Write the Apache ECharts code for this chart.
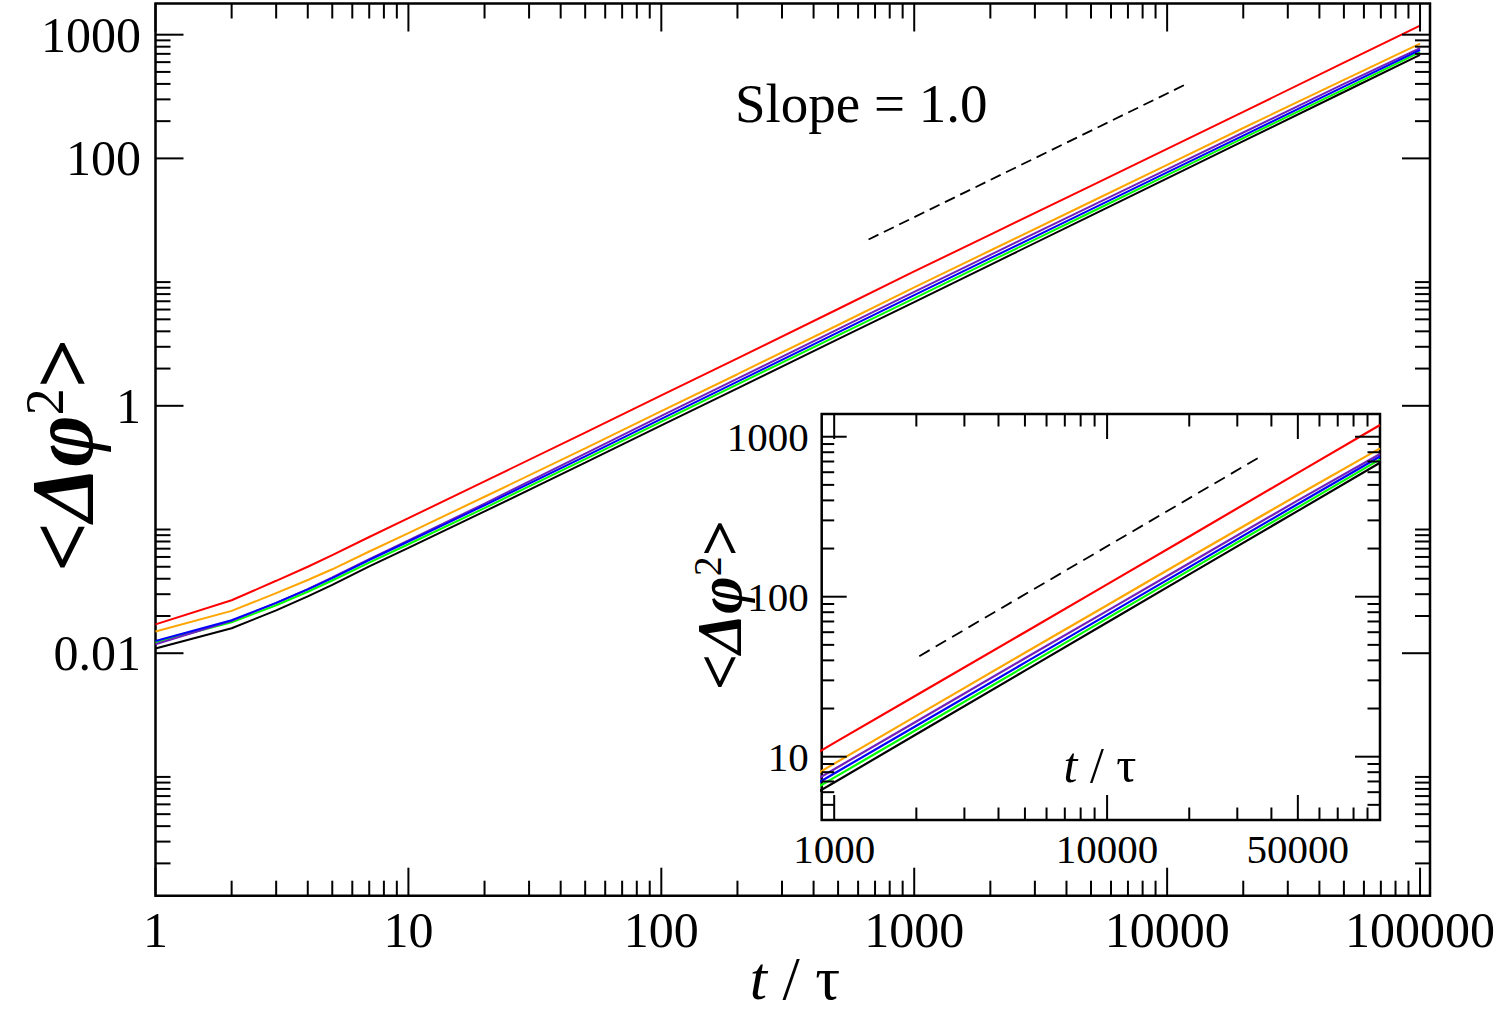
<!DOCTYPE html>
<html><head><meta charset="utf-8">
<script src="https://cdn.jsdelivr.net/npm/echarts@6/dist/echarts.min.js"></script>
<style>html,body{margin:0;padding:0;background:#fff}#c{width:1500px;height:1013px}</style>
</head><body><div id="c"></div>
<script>
// ---------------- data ----------------
const times = [1,2,3,4,5,7,10,20,50,100,200,500,1000,2000,5000,10000,20000,50000,100000];
const redVals    = [0.0171,0.0268,0.0385,0.0500,0.0620,0.0870,0.1235,0.245,0.607,1.215,2.42,6.06,12.2,24.2,60.0,119.5,238,594,1183];
const orangeVals = [0.0150,0.0220,0.0306,0.0391,0.0477,0.0664,0.0936,0.184,0.452,0.905,1.80,4.50,9.05,18.0,44.6,88.5,176,432,846];
const purpleVals = [0.01183,0.0183,0.0255,0.0330,0.0410,0.0577,0.0815,0.162,0.410,0.830,1.66,4.16,8.35,16.6,41.2,81.5,162,400,780];
const blueVals   = [0.01257,0.0185,0.0255,0.0328,0.0405,0.0567,0.0800,0.157,0.390,0.785,1.57,3.92,7.85,15.6,38.7,77.0,153,380,752];
const greenVals  = [0.01227,0.0178,0.0244,0.0314,0.0387,0.0540,0.0760,0.149,0.371,0.745,1.49,3.71,7.40,14.75,36.7,73.2,146,362,722];
const blackVals  = [0.0109,0.0159,0.0222,0.0288,0.0357,0.0503,0.0711,0.140,0.347,0.695,1.385,3.46,6.90,13.8,34.5,69.0,138,344,688];

const seriesList = [
  {name:'black',  color:'#000000', vals:blackVals},
  {name:'green',  color:'#00ff00', vals:greenVals},
  {name:'purple', color:'#7221bc', vals:purpleVals},
  {name:'blue',   color:'#0000ff', vals:blueVals},
  {name:'orange', color:'#ffa500', vals:orangeVals},
  {name:'red',    color:'#ff0000', vals:redVals}
];

// slope-1 guide lines
const slopeMainX  = [660, 11800];
const slopeMainY  = [22.1, 395];
const slopeInsetX = [2050, 36900];
const slopeInsetY = [42.5, 760];

// tick labels
const mainXLabelVals  = [1,10,100,1000,10000,100000];
const mainXLabelText  = ['1','10','100','1000','10000','100000'];
const mainYLabelVals  = [1000,100,1,0.01];
const mainYLabelText  = ['1000','100','1','0.01'];
const insetXLabelVals = [1000,10000,50000];
const insetXLabelText = ['1000','10000','50000'];
const insetYLabelVals = [1000,100,10];
const insetYLabelText = ['1000','100','10'];

// tick marks
const mults = [2,3,4,5,6,7,8,9];
const mainXMajor = [1,10,100,1000,10000,100000];
const mainXMinor = [1,10,100,1000,10000].flatMap(b => mults.map(m => m*b));
const mainYMajor = [0.01,1,100,1000];
const mainYMinor = [1e-4,1e-2,1,100].flatMap(b => mults.map(m => m*b)).concat([1e-3,0.1,10]);
const insetXMajor = [1000,10000,50000];
const insetXMinor = [2000,3000,4000,5000,6000,7000,8000,9000,20000,30000,40000,60000,70000,80000,90000];
const insetYMajor = [10,100,1000];
const insetYMinor = [5,6,7,8,9,20,30,40,50,60,70,80,90,200,300,400,500,600,700,800,900];

// ---------------- chart ----------------
const FONT = "'Liberation Serif','Times New Roman',serif";
const chart = echarts.init(document.getElementById('c'), null, {renderer:'svg', width:1500, height:1013});

function tickSeries(gi, xMaj, xMin, yMaj, yMin, refX, refY, majLen, minLen) {
  const data = [];
  xMaj.forEach(v => data.push([v, refY, majLen, 0]));
  xMin.forEach(v => data.push([v, refY, minLen, 0]));
  yMaj.forEach(v => data.push([refX, v, majLen, 1]));
  yMin.forEach(v => data.push([refX, v, minLen, 1]));
  return {
    type:'custom', xAxisIndex:gi, yAxisIndex:gi, silent:true, clip:false, z:8, animation:false,
    data,
    renderItem(params, api) {
      const cs = params.coordSys;
      const len = api.value(2);
      const style = {stroke:'#000', lineWidth:2};
      if (api.value(3) === 0) {
        const x = api.coord([api.value(0), refY])[0];
        const b = cs.y + cs.height, t = cs.y;
        return {type:'group', children:[
          {type:'line', shape:{x1:x, y1:b, x2:x, y2:b-len}, style},
          {type:'line', shape:{x1:x, y1:t, x2:x, y2:t+len}, style}
        ]};
      } else {
        const y = api.coord([refX, api.value(1)])[1];
        const l = cs.x, r = cs.x + cs.width;
        return {type:'group', children:[
          {type:'line', shape:{x1:l, y1:y, x2:l+len, y2:y}, style},
          {type:'line', shape:{x1:r, y1:y, x2:r-len, y2:y}, style}
        ]};
      }
    }
  };
}

function labelSeries(gi, axis, vals, texts, ref, offset, fontSize) {
  return {
    type:'custom', xAxisIndex:gi, yAxisIndex:gi, silent:true, clip:false, z:8, animation:false,
    data: vals.map(v => axis === 'x' ? [v, ref] : [ref, v]),
    renderItem(params, api) {
      const cs = params.coordSys;
      const txt = texts[params.dataIndex];
      if (axis === 'x') {
        const x = api.coord([api.value(0), ref])[0];
        return {type:'text', x:x, y:cs.y + cs.height + offset,
          style:{text:txt, fontSize, fontFamily:FONT, fill:'#000', align:'center', verticalAlign:'middle'}};
      } else {
        const y = api.coord([ref, api.value(1)])[1];
        return {type:'text', x:cs.x + offset, y:y,
          style:{text:txt, fontSize, fontFamily:FONT, fill:'#000', align:'right', verticalAlign:'middle'}};
      }
    }
  };
}

function dataSeries(gi, width, z) {
  return seriesList.map(s => ({
    type:'line', name:s.name, xAxisIndex:gi, yAxisIndex:gi,
    data: times.map((t, i) => [t, s.vals[i]]),
    showSymbol:false, symbol:'none', clip:true, animation:false, silent:true,
    lineStyle:{color:s.color, width:width}, z:z
  }));
}

function slopeSeries(gi, xs, ys, dash, z) {
  return {type:'line', xAxisIndex:gi, yAxisIndex:gi, data: xs.map((x,i)=>[x, ys[i]]),
    showSymbol:false, symbol:'none', clip:true, animation:false, silent:true,
    lineStyle:{color:'#000', width:1.8, type:dash}, z:z};
}

const hiddenAxis = {axisLine:{show:false}, axisTick:{show:false}, axisLabel:{show:false}, splitLine:{show:false}, minorTick:{show:false}};

const option = {
  backgroundColor:'#fff',
  animation:false,
  grid:[
    {left:155.5, top:3.5, width:1274.5, height:892.2, show:true, borderColor:'#000', borderWidth:2.5, backgroundColor:'transparent', containLabel:false, outerBoundsMode:'none', z:0},
    {left:821.7, top:414, width:558.3, height:406, show:true, borderColor:'#000', borderWidth:2.5, backgroundColor:'#fff', containLabel:false, outerBoundsMode:'none', z:4}
  ],
  xAxis:[
    Object.assign({gridIndex:0, type:'log', logBase:10, min:1, max:109500}, hiddenAxis),
    Object.assign({gridIndex:1, type:'log', logBase:10, min:900, max:100000}, hiddenAxis)
  ],
  yAxis:[
    Object.assign({gridIndex:0, type:'log', logBase:10, min:1.096e-4, max:1787}, hiddenAxis),
    Object.assign({gridIndex:1, type:'log', logBase:10, min:4.02, max:1387}, hiddenAxis)
  ],
  series:[].concat(
    dataSeries(0, 2, 3),
    [slopeSeries(0, slopeMainX, slopeMainY, [11,6], 3)],
    dataSeries(1, 2.2, 7),
    [slopeSeries(1, slopeInsetX, slopeInsetY, [12,7], 7)],
    [tickSeries(0, mainXMajor, mainXMinor, mainYMajor, mainYMinor, 10, 1, 28, 15)],
    [tickSeries(1, insetXMajor, insetXMinor, insetYMajor, insetYMinor, 10000, 100, 25, 12.5)],
    [labelSeries(0, 'x', mainXLabelVals, mainXLabelText, 1, 34, 50)],
    [labelSeries(0, 'y', mainYLabelVals, mainYLabelText, 10, -14.5, 50)],
    [labelSeries(1, 'x', insetXLabelVals, insetXLabelText, 100, 29, 41)],
    [labelSeries(1, 'y', insetYLabelVals, insetYLabelText, 10000, -13, 41)]
  ),
  graphic:[
    {type:'text', x:795, y:978, z:10, style:{text:'{i|t} / τ', fontSize:62, lineHeight:50, fontFamily:FONT, fill:'#000', align:'center', verticalAlign:'middle',
      rich:{i:{fontStyle:'italic', fontSize:62, lineHeight:50, fontFamily:FONT}}}},
    {type:'text', x:62, y:455, rotation:Math.PI/2, z:10, style:{text:'<{i|Δφ}{s|2}>', fontSize:88, fontWeight:'bold', fontFamily:FONT, fill:'#000', align:'center', verticalAlign:'middle',
      rich:{i:{fontStyle:'italic', fontWeight:'bold', fontSize:88, fontFamily:FONT}, s:{fontSize:54, fontFamily:FONT, verticalAlign:'top'}}}},
    {type:'text', x:1100, y:765, z:10, style:{text:'{i|t} / τ', fontSize:50, fontFamily:FONT, fill:'#000', align:'center', verticalAlign:'middle',
      rich:{i:{fontStyle:'italic', fontSize:50, fontFamily:FONT}}}},
    {type:'text', x:719, y:605, rotation:Math.PI/2, z:10, style:{text:'<{i|Δφ}{s|2}>', fontSize:64, fontWeight:'bold', fontFamily:FONT, fill:'#000', align:'center', verticalAlign:'middle',
      rich:{i:{fontStyle:'italic', fontWeight:'bold', fontSize:64, fontFamily:FONT}, s:{fontSize:40, fontFamily:FONT, verticalAlign:'top'}}}},
    {type:'text', x:735, y:103, z:10, style:{text:'Slope = 1.0', fontSize:55, fontFamily:FONT, fill:'#000', align:'left', verticalAlign:'middle'}}
  ]
};
chart.setOption(option);
</script>
</body></html>
